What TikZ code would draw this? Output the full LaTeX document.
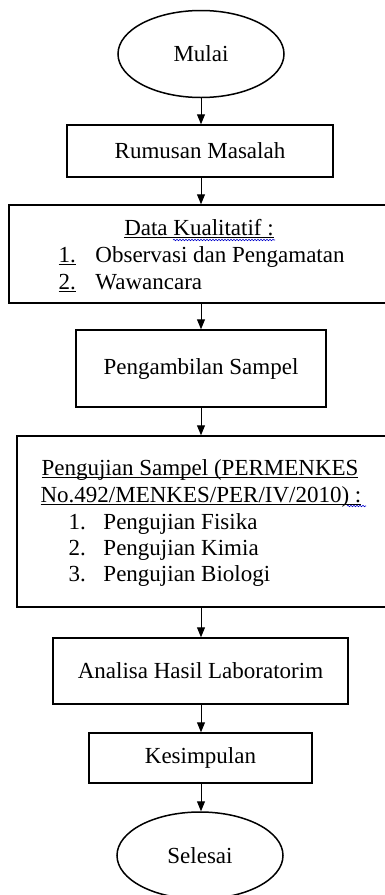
\documentclass[tikz,border=0pt]{standalone}
\usepackage{fontspec}
\setmainfont{Liberation Serif}
\usetikzlibrary{shapes.geometric,arrows.meta,decorations.pathmorphing}
\newcommand{\garis}[1]{\setbox0=\hbox{#1}\rlap{\rule[-3pt]{\wd0}{1pt}}\box0}

\begin{document}
\begin{tikzpicture}[x=1pt,y=-1pt,->,>={Triangle[length=10pt,width=8pt]},line width=1pt,
    every node/.style={font=\fontsize{23}{27}\selectfont,inner sep=0pt},
    kotak/.style={draw=black,line width=1.5pt,rectangle},
    oval/.style={draw=black,line width=1.5pt,ellipse,minimum width=166pt,minimum height=87pt},
    teks/.style={anchor=base west},
    salah/.style={-,draw=blue!80!black,line width=0.6pt,decorate,decoration={snake,amplitude=0.7pt,segment length=3pt}}]
    \useasboundingbox (0,0) rectangle (384,895);
        \node[oval] (mulai) at (201,54) {Mulai};
        \node[kotak,minimum width=266pt,minimum height=52pt] (rumusan) at (200,151) {Rumusan Masalah};
        \node[kotak,minimum width=382pt,minimum height=98pt] (data) at (200,254) {};
        \node[anchor=base] (datajudul) at (199,235) {\garis{Data Kualitatif :}};
        \node[teks] (data1) at (58,262) {\makebox[37pt][l]{\garis{1.}}Observasi dan Pengamatan};
        \node[teks] (data2) at (58,289) {\makebox[37pt][l]{\garis{2.}}Wawancara};
        \draw[salah] (173,240) -- (275,240);
        \node[kotak,minimum width=250pt,minimum height=77pt] (ambil) at (201,368.5) {Pengambilan Sampel};
        \node[kotak,minimum width=375pt,minimum height=171pt] (uji) at (204.5,521.5) {};
        \node[anchor=base] (ujijudul) at (200,475) {\garis{Pengujian Sampel (PERMENKES}};
        \node[anchor=base] (ujinomor) at (201,502) {\garis{No.492/MENKES/PER/IV/2010) :}};
        \node[teks] (uji1) at (68,529) {\makebox[35pt][l]{1.}Pengujian Fisika};
        \node[teks] (uji2) at (68,555) {\makebox[35pt][l]{2.}Pengujian Kimia};
        \node[teks] (uji3) at (68,581) {\makebox[35pt][l]{3.}Pengujian Biologi};
        \draw[salah] (347,506) -- (366,506);
        \node[kotak,minimum width=295pt,minimum height=66pt] (analisa) at (200.5,671) {Analisa Hasil Laboratorim};
        \node[kotak,minimum width=223pt,minimum height=50pt] (simpul) at (200.5,758) {Kesimpulan};
        \node[oval] (selesai) at (200,855.5) {Selesai};
        \foreach \a/\b in {mulai/rumusan,rumusan/data,data/ambil,ambil/uji,uji/analisa,analisa/simpul,simpul/selesai}
          \draw (\a.south -| mulai) -- (\b.north -| mulai);
\end{tikzpicture}
\end{document}
